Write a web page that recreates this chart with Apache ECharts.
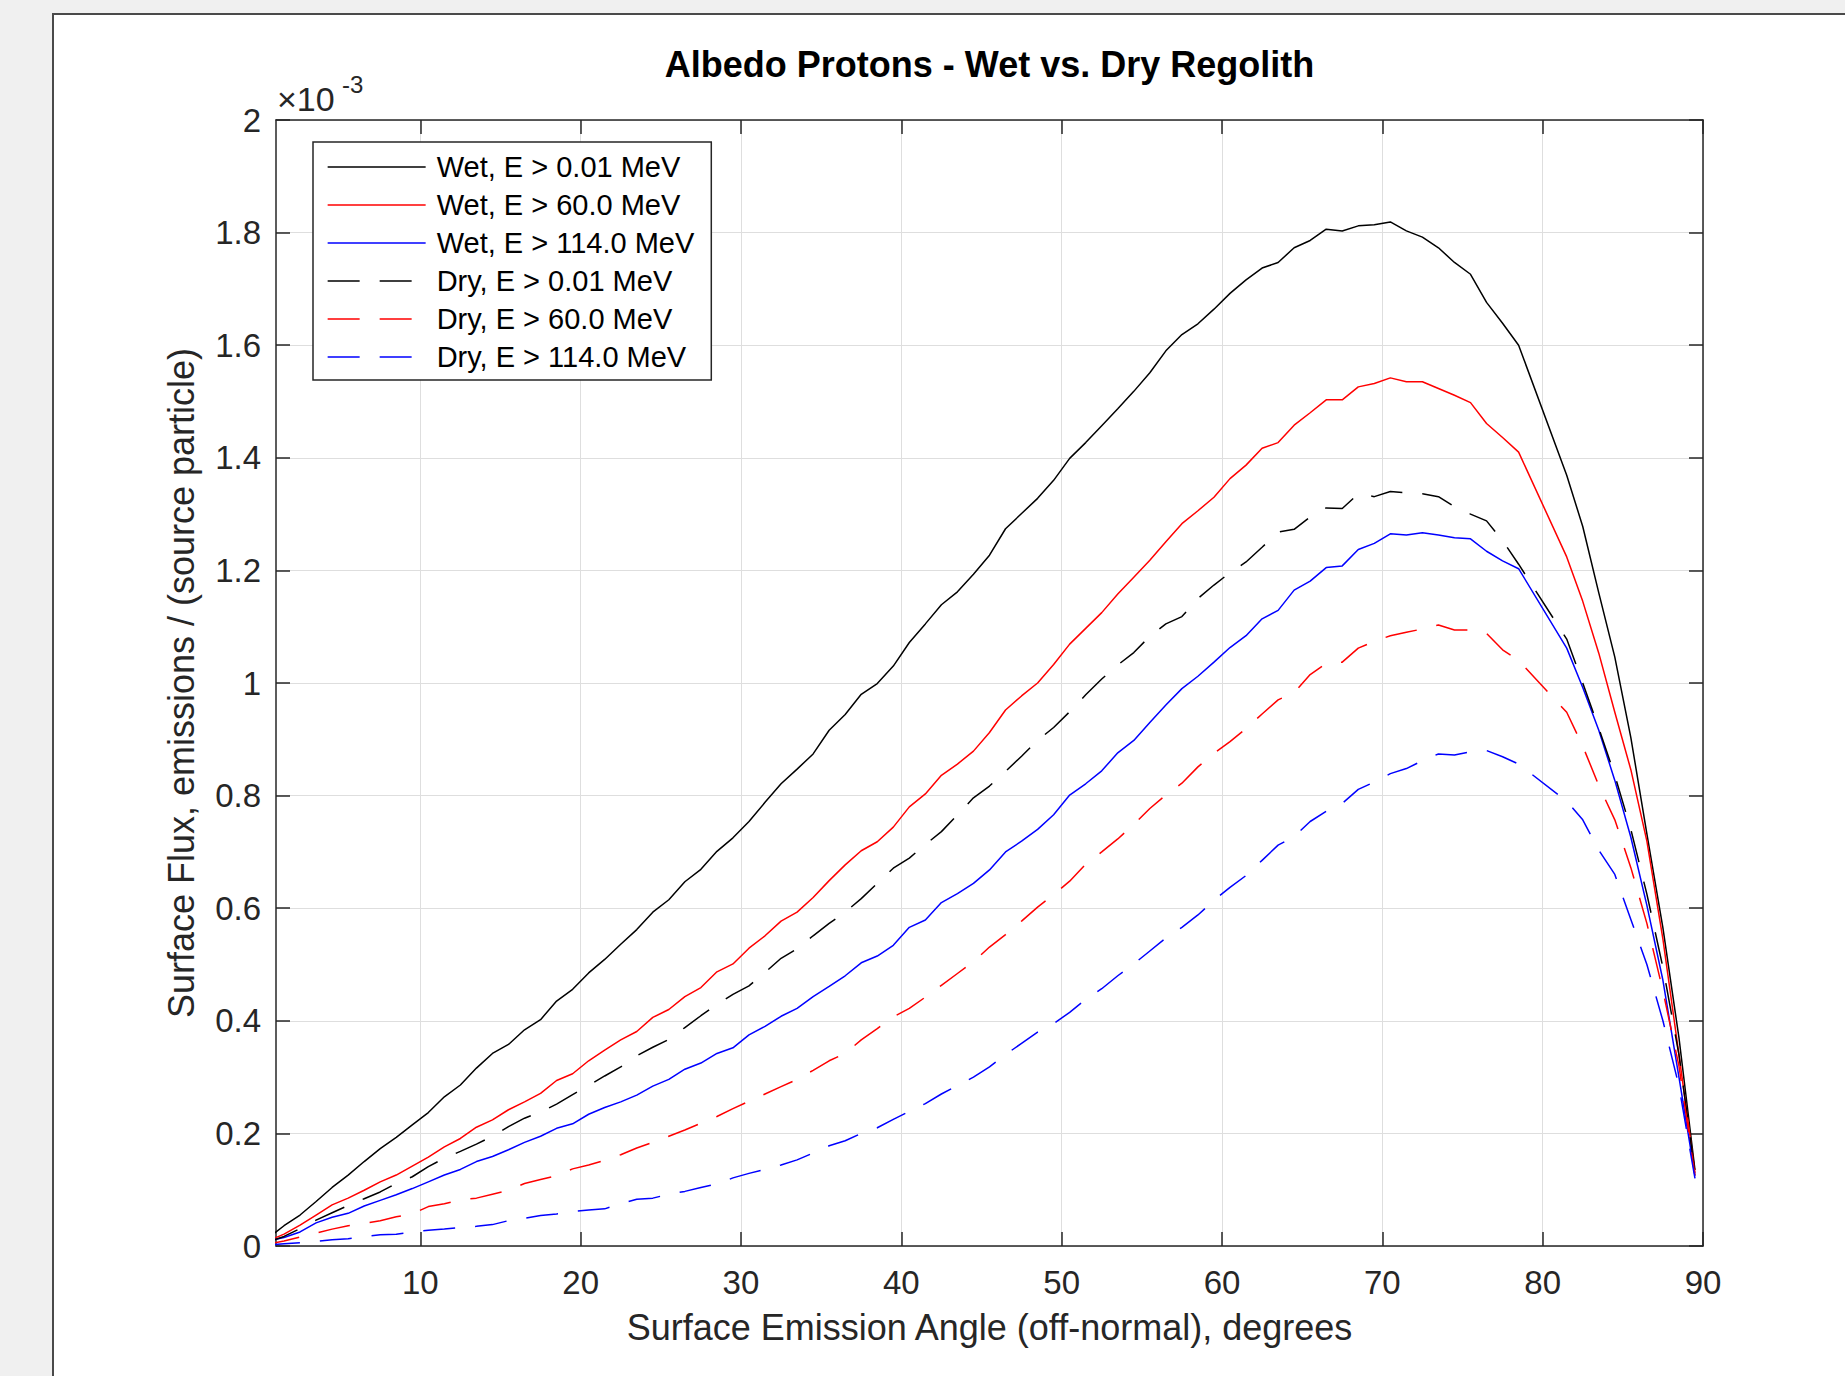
<!DOCTYPE html>
<html><head><meta charset="utf-8">
<script src="https://cdn.jsdelivr.net/npm/echarts@6/dist/echarts.min.js"></script>
<style>html,body{margin:0;padding:0;background:#f0f0f0;overflow:hidden}#c{width:1845px;height:1376px}</style>
</head><body><div id="c"></div>
<script>
// Surface emission angle (bin centres, degrees)
const angles = [0.5, 1.5, 2.5, 3.5, 4.5, 5.5, 6.5, 7.5, 8.5, 9.5,
  10.5, 11.5, 12.5, 13.5, 14.5, 15.5, 16.5, 17.5, 18.5, 19.5,
  20.5, 21.5, 22.5, 23.5, 24.5, 25.5, 26.5, 27.5, 28.5, 29.5,
  30.5, 31.5, 32.5, 33.5, 34.5, 35.5, 36.5, 37.5, 38.5, 39.5,
  40.5, 41.5, 42.5, 43.5, 44.5, 45.5, 46.5, 47.5, 48.5, 49.5,
  50.5, 51.5, 52.5, 53.5, 54.5, 55.5, 56.5, 57.5, 58.5, 59.5,
  60.5, 61.5, 62.5, 63.5, 64.5, 65.5, 66.5, 67.5, 68.5, 69.5,
  70.5, 71.5, 72.5, 73.5, 74.5, 75.5, 76.5, 77.5, 78.5,
  81.5, 82.5, 83.5, 84.5, 85.5, 86.5, 87.5, 88.5, 89.5];

// Surface flux (x 1e-3 emissions / source particle)
const wetLow = [0.014, 0.036, 0.055, 0.079, 0.104, 0.126, 0.150, 0.173, 0.193, 0.215,
  0.237, 0.265, 0.286, 0.316, 0.342, 0.358, 0.384, 0.402, 0.435, 0.456,
  0.485, 0.509, 0.536, 0.562, 0.593, 0.615, 0.647, 0.669, 0.701, 0.725,
  0.754, 0.788, 0.821, 0.847, 0.874, 0.916, 0.944, 0.980, 0.999, 1.030,
  1.072, 1.105, 1.139, 1.162, 1.193, 1.227, 1.274, 1.301, 1.328, 1.360,
  1.399, 1.427, 1.457, 1.487, 1.518, 1.551, 1.590, 1.619, 1.638, 1.664,
  1.692, 1.716, 1.737, 1.747, 1.773, 1.786, 1.806, 1.803, 1.812, 1.814,
  1.819, 1.803, 1.792, 1.773, 1.747, 1.726, 1.676, 1.639, 1.600,
  1.369, 1.278, 1.160, 1.046, 0.903, 0.732, 0.565, 0.370, 0.135];

const wetMid = [0.009, 0.021, 0.037, 0.055, 0.073, 0.085, 0.099, 0.114, 0.126, 0.142,
  0.158, 0.176, 0.191, 0.211, 0.224, 0.242, 0.256, 0.271, 0.294, 0.306,
  0.329, 0.348, 0.366, 0.381, 0.406, 0.420, 0.443, 0.459, 0.487, 0.501,
  0.529, 0.551, 0.577, 0.593, 0.619, 0.649, 0.677, 0.702, 0.718, 0.744,
  0.780, 0.803, 0.836, 0.856, 0.879, 0.912, 0.952, 0.977, 1.000, 1.033,
  1.069, 1.097, 1.125, 1.158, 1.188, 1.218, 1.251, 1.283, 1.306, 1.330,
  1.363, 1.387, 1.417, 1.427, 1.458, 1.480, 1.503, 1.503, 1.526, 1.532,
  1.542, 1.535, 1.535, 1.523, 1.511, 1.498, 1.461, 1.436, 1.410,
  1.224, 1.145, 1.053, 0.948, 0.846, 0.719, 0.545, 0.340, 0.130];

const wetHigh = [0.009, 0.015, 0.025, 0.041, 0.051, 0.058, 0.071, 0.081, 0.091, 0.102,
  0.114, 0.126, 0.136, 0.150, 0.159, 0.171, 0.184, 0.195, 0.209, 0.217,
  0.234, 0.246, 0.256, 0.268, 0.284, 0.296, 0.314, 0.325, 0.342, 0.352,
  0.375, 0.390, 0.408, 0.422, 0.443, 0.461, 0.480, 0.503, 0.515, 0.534,
  0.566, 0.579, 0.610, 0.626, 0.644, 0.668, 0.700, 0.719, 0.740, 0.766,
  0.801, 0.821, 0.844, 0.876, 0.898, 0.930, 0.961, 0.990, 1.012, 1.037,
  1.063, 1.084, 1.114, 1.129, 1.165, 1.181, 1.205, 1.208, 1.237, 1.248,
  1.265, 1.263, 1.267, 1.263, 1.258, 1.256, 1.234, 1.217, 1.203,
  1.062, 0.992, 0.916, 0.827, 0.726, 0.605, 0.472, 0.300, 0.125];

const dryLow = [0.007, 0.017, 0.031, 0.046, 0.059, 0.072, 0.084, 0.096, 0.111, 0.123,
  0.141, 0.156, 0.168, 0.181, 0.195, 0.212, 0.227, 0.238, 0.252, 0.269,
  0.285, 0.302, 0.318, 0.338, 0.353, 0.367, 0.388, 0.409, 0.429, 0.447,
  0.462, 0.486, 0.511, 0.528, 0.551, 0.573, 0.593, 0.617, 0.644, 0.671,
  0.689, 0.713, 0.736, 0.766, 0.796, 0.817, 0.843, 0.870, 0.898, 0.921,
  0.949, 0.979, 1.007, 1.032, 1.054, 1.083, 1.105, 1.118, 1.150, 1.174,
  1.196, 1.215, 1.241, 1.268, 1.273, 1.295, 1.311, 1.310, 1.336, 1.331,
  1.340, 1.338, 1.336, 1.331, 1.313, 1.300, 1.288, 1.253, 1.211,
  1.078, 1.000, 0.920, 0.836, 0.740, 0.625, 0.495, 0.340, 0.130];

const dryMid = [0.003, 0.009, 0.016, 0.023, 0.030, 0.036, 0.040, 0.045, 0.052, 0.057,
  0.070, 0.075, 0.082, 0.085, 0.092, 0.099, 0.111, 0.118, 0.125, 0.137,
  0.144, 0.152, 0.162, 0.174, 0.184, 0.195, 0.206, 0.218, 0.230, 0.244,
  0.257, 0.270, 0.283, 0.296, 0.312, 0.329, 0.342, 0.366, 0.386, 0.407,
  0.422, 0.442, 0.463, 0.484, 0.505, 0.531, 0.553, 0.577, 0.602, 0.624,
  0.648, 0.678, 0.700, 0.723, 0.749, 0.777, 0.801, 0.822, 0.851, 0.875,
  0.896, 0.919, 0.945, 0.970, 0.983, 1.015, 1.035, 1.037, 1.062, 1.074,
  1.084, 1.090, 1.096, 1.103, 1.094, 1.094, 1.088, 1.059, 1.040,
  0.948, 0.888, 0.818, 0.757, 0.672, 0.573, 0.453, 0.320, 0.125];

const dryHigh = [0.002, 0.004, 0.006, 0.008, 0.011, 0.013, 0.017, 0.020, 0.021, 0.025,
  0.028, 0.030, 0.033, 0.035, 0.038, 0.045, 0.049, 0.054, 0.057, 0.061,
  0.064, 0.066, 0.075, 0.083, 0.085, 0.092, 0.097, 0.104, 0.110, 0.121,
  0.129, 0.136, 0.144, 0.153, 0.165, 0.178, 0.187, 0.200, 0.210, 0.225,
  0.239, 0.253, 0.270, 0.285, 0.300, 0.318, 0.340, 0.360, 0.380, 0.395,
  0.415, 0.438, 0.457, 0.480, 0.501, 0.524, 0.547, 0.566, 0.588, 0.614,
  0.637, 0.658, 0.685, 0.712, 0.727, 0.754, 0.772, 0.786, 0.811, 0.824,
  0.839, 0.848, 0.862, 0.874, 0.872, 0.878, 0.880, 0.869, 0.856,
  0.790, 0.757, 0.703, 0.660, 0.580, 0.500, 0.400, 0.284, 0.120];

const seriesNames = ['Wet, E > 0.01 MeV', 'Wet, E > 60.0 MeV', 'Wet, E > 114.0 MeV',
  'Dry, E > 0.01 MeV', 'Dry, E > 60.0 MeV', 'Dry, E > 114.0 MeV'];
const xTicks = [10, 20, 30, 40, 50, 60, 70, 80, 90];

const FONT = '"Liberation Sans", Arial, Helvetica, sans-serif';
const AX = '#262626';
const DASH = [32, 20];

const defs = [
  { name: seriesNames[0], values: wetLow,  color: '#000000', type: 'solid' },
  { name: seriesNames[1], values: wetMid,  color: '#ff0000', type: 'solid' },
  { name: seriesNames[2], values: wetHigh, color: '#0000ff', type: 'solid' },
  { name: seriesNames[3], values: dryLow,  color: '#000000', type: DASH },
  { name: seriesNames[4], values: dryMid,  color: '#ff0000', type: DASH },
  { name: seriesNames[5], values: dryHigh, color: '#0000ff', type: DASH }
];

const chart = echarts.init(document.getElementById('c'), null, { renderer: 'svg', width: 1845, height: 1376 });

const axisLine = { show: true, onZero: false, lineStyle: { color: AX, width: 1.5 } };
const tickStyle = { color: AX, width: 1.5 };

chart.setOption({
  animation: false,
  backgroundColor: '#f0f0f0',
  title: {
    text: 'Albedo Protons - Wet vs. Dry Regolith',
    left: 989.5, top: 46, textAlign: 'center', padding: 0,
    textStyle: { fontSize: 36, fontWeight: 'bold', color: '#000', fontFamily: FONT }
  },
  grid: { left: 276, top: 120, width: 1427, height: 1126 },
  legend: {
    orient: 'vertical', left: 313, top: 142, padding: [10, 17, 8, 14],
    itemWidth: 98, itemHeight: 30, itemGap: 8, selectedMode: false,
    backgroundColor: '#ffffff', borderColor: AX, borderWidth: 1.5, borderRadius: 0,
    itemStyle: { opacity: 0, borderWidth: 0 },
    lineStyle: { width: 1.3 },
    textStyle: { fontSize: 29, color: '#000', fontFamily: FONT, lineHeight: 30, padding: [0, 0, 0, 6] },
    data: seriesNames, z: 10
  },
  xAxis: [
    {
      type: 'value', min: 1, max: 90, position: 'bottom',
      axisLine: axisLine,
      axisTick: { show: true, inside: true, length: 14, customValues: xTicks, lineStyle: tickStyle },
      axisLabel: { customValues: xTicks, margin: 20, color: AX, fontSize: 33, fontFamily: FONT },
      splitLine: { show: true, lineStyle: { color: '#dedede', width: 1 } },
      name: 'Surface Emission Angle (off-normal), degrees',
      nameLocation: 'middle', nameGap: 63,
      nameTextStyle: { fontSize: 36, color: AX, fontFamily: FONT }
    },
    {
      type: 'value', min: 1, max: 90, position: 'top',
      axisLine: axisLine,
      axisTick: { show: true, inside: true, length: 14, customValues: xTicks, lineStyle: tickStyle },
      axisLabel: { show: false },
      splitLine: { show: false }
    }
  ],
  yAxis: [
    {
      type: 'value', min: 0, max: 2, interval: 0.2, position: 'left',
      axisLine: axisLine,
      axisTick: { show: true, inside: true, length: 14, lineStyle: tickStyle },
      axisLabel: { margin: 15, color: AX, fontSize: 33, fontFamily: FONT,
        formatter: v => String(+v.toFixed(1)) },
      splitLine: { show: true, lineStyle: { color: '#dedede', width: 1 } },
      name: 'Surface Flux, emissions / (source particle)',
      nameLocation: 'middle', nameGap: 77, nameRotate: 90,
      nameTextStyle: { fontSize: 36, color: AX, fontFamily: FONT }
    },
    {
      type: 'value', min: 0, max: 2, interval: 0.2, position: 'right',
      axisLine: axisLine,
      axisTick: { show: true, inside: true, length: 14, lineStyle: tickStyle },
      axisLabel: { show: false },
      splitLine: { show: false }
    }
  ],
  graphic: [
    { type: 'rect', z: -10, silent: true,
      shape: { x: 53, y: 14, width: 1900, height: 1500 },
      style: { fill: '#ffffff', stroke: '#4a4a4a', lineWidth: 2 } },
    { type: 'text', x: 277, y: 99, silent: true,
      style: { text: '×10', fontSize: 34, fontFamily: FONT, fill: AX, align: 'left', verticalAlign: 'middle' } },
    { type: 'text', x: 342, y: 84, silent: true,
      style: { text: '-3', fontSize: 24, fontFamily: FONT, fill: AX, align: 'left', verticalAlign: 'middle' } }
  ],
  series: defs.map(d => ({
    type: 'line',
    name: d.name,
    data: angles.map((a, i) => [a, d.values[i]]),
    symbol: 'none',
    clip: true,
    lineStyle: { color: d.color, width: 1.5, type: d.type },
    itemStyle: { color: d.color }
  }))
});
</script>
</body></html>
